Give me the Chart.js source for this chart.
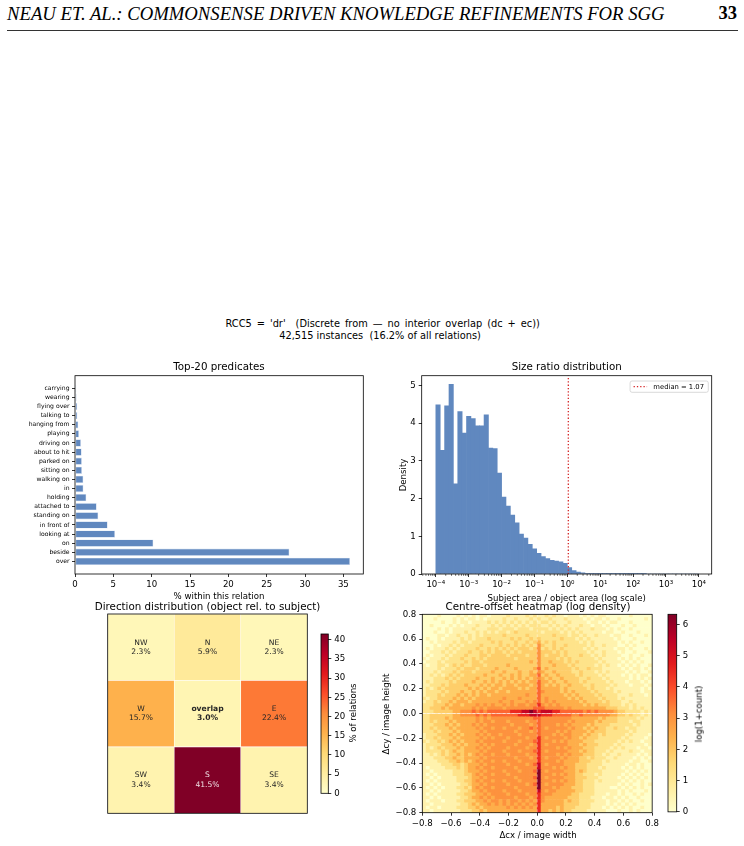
<!DOCTYPE html>
<html><head><meta charset="utf-8">
<script src="https://cdn.jsdelivr.net/npm/chart.js@4.4.1/dist/chart.umd.min.js"></script>
<style>
html,body{margin:0;padding:0;background:#fff;}
body{width:744px;height:846px;position:relative;overflow:hidden;font-family:'DejaVu Sans',sans-serif;color:#000;}
canvas{position:absolute;}
.t{position:absolute;white-space:pre;transform:translate(-50%,-50%);line-height:1;}
.r{transform:translate(-50%,-50%) rotate(-90deg);}
.ttl{font-size:10.3px;}
.lab{font-size:8.6px;}
</style></head><body>
<div style="position:absolute;left:7px;top:3px;font-family:'Liberation Serif',serif;font-style:italic;font-size:18.7px;white-space:nowrap;">NEAU ET. AL.: COMMONSENSE DRIVEN KNOWLEDGE REFINEMENTS FOR SGG</div>
<div style="position:absolute;right:7px;top:3px;font-family:'Liberation Serif',serif;font-weight:bold;font-size:18.5px;">33</div>
<div style="position:absolute;left:7px;width:731px;top:30px;height:1px;background:#333;"></div>

<div class="t" style="left:382.7px;top:324px;font-size:9.8px;word-spacing:1.9px;">RCC5 = 'dr'  (Discrete from — no interior overlap (dc + ec))</div>
<div class="t" style="left:380px;top:335.5px;font-size:9.8px;">42,515 instances  (16.2% of all relations)</div>

<canvas id="c1" width="372" height="260" style="left:0px;top:350px;"></canvas>
<canvas id="c2" width="372" height="260" style="left:372px;top:350px;"></canvas>
<canvas id="c3" width="215" height="220" style="left:100px;top:600px;"></canvas>
<canvas id="c3b" width="60" height="220" style="left:315px;top:600px;"></canvas>
<canvas id="c4" width="290" height="246" style="left:372px;top:600px;"></canvas>
<canvas id="c4b" width="82" height="220" style="left:662px;top:600px;"></canvas>

<div class="t ttl" style="left:219px;top:366px;">Top-20 predicates</div>
<div class="t ttl" style="left:566.7px;top:366px;">Size ratio distribution</div>
<div class="t lab" style="left:219px;top:596px;">% within this relation</div>
<div class="t lab" style="left:566.7px;top:598px;">Subject area / object area (log scale)</div>
<div class="t lab r" style="left:402.7px;top:475px;">Density</div>
<div class="t ttl" style="left:207.5px;top:605.5px;">Direction distribution (object rel. to subject)</div>
<div class="t ttl" style="left:538px;top:606px;">Centre-offset heatmap (log density)</div>
<div class="t lab r" style="left:353px;top:713px;">% of relations</div>
<div class="t lab" style="left:538px;top:834.5px;">Δcx / image width</div>
<div class="t lab r" style="left:386px;top:714px;">Δcy / image height</div>
<div class="t lab r" style="left:698.8px;top:714px;">log(1+count)</div>

<script>
// ---------------- DATA ----------------
const predicates = ['over','beside','on','looking at','in front of','standing on','attached to','holding','in','walking on','sitting on','parked on','about to hit','driving on','playing','hanging from','talking to','flying over','wearing','carrying'];
const predicatePct = [35.87,27.96,10.22,5.22,4.26,3.04,2.83,1.48,1.10,1.09,0.91,0.90,0.87,0.78,0.52,0.43,0.31,0.30,0.22,0.17];
const predicateTicks = [0,5,10,15,20,25,30,35];

const sizeRatioLogMin = -4;
const sizeRatioLogMax = 4;
const sizeRatioDensity = [4.49,3.28,4.46,5.03,2.39,4.31,3.74,4.18,4.12,3.93,
  3.93,4.22,3.34,3.33,2.68,2.04,1.80,1.56,1.36,1.06,
  0.95,0.79,0.67,0.55,0.46,0.41,0.36,0.34,0.32,0.28,
  0.17,0.09,0.05,0.03,0.02,0.015,0.01,0.008,0.005,0.004,
  0.003,0.003,0.002,0.002,0.001,0.001,0.001,0.001,0.0,0.0,
  0.0,0.0,0.0,0.0,0.0,0.0,0.0,0.0,0.0,0.0];
const sizeRatioDecades = [-4,-3,-2,-1,0,1,2,3,4];
const sizeRatioYTicks = [0,1,2,3,4,5];
const sizeRatioMedian = 1.07;

const directionNames = [['NW','N','NE'],['W','overlap','E'],['SW','S','SE']];
const directionPct = [[2.3,5.9,2.3],[15.7,3.0,22.4],[3.4,41.5,3.4]];
const directionCbarTicks = [0,5,10,15,20,25,30,35,40];

const offsetMin = -0.8, offsetMax = 0.8;
const offsetTicks = [-0.8,-0.6,-0.4,-0.2,0,0.2,0.4,0.6,0.8];
// log(1+count) value represented by each level digit 0..9 in offsetRows
const offsetLevelValues = [0, 0.55, 1.2, 1.8, 2.45, 3.05, 3.65, 4.5, 5.35, 6.3];
const offsetVmax = 6.32;
const offsetCbarTicks = [0,1,2,3,4,5,6];
// rows from top (dcy = +0.8) to bottom (dcy = -0.8), 60 columns each (dcx -0.8 .. 0.8)
const offsetRows = [
"0000100001 0101011011 1121111212 1121211011 1010101100 0000100000",
"0001000010 1011010111 1211211121 2112111211 1101011010 0100000010",
"0000010010 1101111212 1212121212 1221211121 1110110101 1000100000",
"0010000101 0111211121 2121212122 2112121211 1211011010 0010010000",
"0000101011 1112111222 1222122212 2221212121 2111211101 0100100000",
"0001001011 1211212121 2212322222 2122221212 1211111011 0010001000",
"0000110112 1121212222 2322222322 2222322212 2121121110 1100100010",
"0100101111 2121222322 2223232232 3222223222 1212111111 0100010000",
"0010111121 2212222232 3222322323 4232322222 2121211111 1010100100",
"0001011212 1222232222 3232323232 5322322322 2221211211 1001010000",
"0101112121 2222322323 2323233323 5232323222 2212121111 0110100010",
"0011121212 2232232323 3232323333 5333232322 2221211211 1010010001",
"0101112122 2322233233 3323333233 5323332322 2322121211 1100100100",
"1011121222 3223232333 3333233333 5333323232 2222212111 1010101000",
"0111212222 2323323333 3333333343 5334333232 3222221211 1101010100",
"1011221232 3223332333 3343333333 5333433323 2222212121 1010101001",
"1111212223 2333233334 3333433334 6343333332 3223222111 1101011010",
"1112122232 3332333343 3433343343 5433433332 2322212121 1110101001",
"1121212323 2333334333 4334343344 6343343333 2322221211 1101010110",
"1112223232 3333433343 3434343434 5434334333 3223222121 1111010101",
"1212222323 3334334343 4343434344 6443433433 3232222212 1110111010",
"1122232333 3433343434 4344344434 6434343343 3322322221 2111011101",
"1212323333 3343434344 3444434344 6444443433 3332322212 1111111010",
"1222232333 4334343443 4434444444 6544443434 3333232222 1211111011",
"1222323334 3434344344 4444444544 6444444343 4333323222 2111211101",
"2122333343 4343444444 4544454444 6454444434 3433332322 2121111111",
"1223233434 4434444444 5445444545 6454544444 4343333232 2211211111",
"2223334344 3444545454 4545455455 7545454444 4434343332 2212121111",
"2233343444 4445454555 5455555556 6655555454 4444444433 3222121211",
"2223333344 5556565666 6667778898 7888776666 6656565555 4332222121",
"2233333344 5555656566 6666677788 8777666665 5655555554 4332322121",
"2233334344 4444545455 5555555556 6555555554 4444443433 3222221211",
"2232333434 4444545545 5545555455 6555555545 4444434333 3222122111",
"2223334343 4445454555 5554555545 6555545454 4443433332 2222212111",
"2232333434 4444545545 5455545565 6545555545 4434343322 3221221111",
"2223233343 4444454555 5555455545 6555545454 4443433322 2222121111",
"1222333434 3444545455 4555545555 6555454554 4434332322 2221211110",
"1223233343 4444454545 5545555455 7545555454 4343332222 2212111101",
"2122323434 3444545555 5455545556 7555454544 4433322222 2121211011",
"1222233343 4344454545 5555455545 7545555544 4343332222 1211111101",
"1212323334 3444545455 5545555455 7555545454 4433322221 2121110110",
"1222232343 3444454555 5455545556 7545555544 4343322212 1111211011",
"1121232334 3434545545 5545555455 7555545454 4433322121 1211110101",
"1112223343 3444454555 5555455545 7545554544 4332322211 2111101010",
"1111222334 3434545545 5455545555 7555545444 4333222121 1111011001",
"1111122233 2344454555 5545555456 8545555444 3332222111 1110110100",
"1011112223 2344545545 5555455555 8555454544 3332221211 1101010100",
"1101111122 2344454555 5455545556 9545555444 3432222111 1110101010",
"1010111122 2334545545 5545555555 9555454544 3322212111 1101010100",
"1101011112 2234454555 5555455556 9545555444 3332221111 1010101010",
"1010111112 2334545545 5455545555 9555454544 3322212111 1101010100",
"1101011111 2234454555 5545555456 9545555444 3322211111 1010100101",
"1010101112 2324545545 5555455555 9555454443 3322211110 0101010100",
"1101011111 2234454555 5455545555 8545544444 3322211111 1010100010",
"1010111112 2333445455 5545555455 7555444443 3222211101 1010010100",
"1101011111 2234454545 5555455545 7544444433 3222111011 0101001000",
"1011101112 2333445455 4545545454 7544444343 3222211101 1010100100",
"1101111111 2234344545 4545454545 7444444333 3222111101 0101010000",
"1011011112 2233434444 4454545454 7444434333 2222111010 1010100100",
"1101111111 2223343444 4444444444 7443434332 2221111100 0100101000"
];

// ---------------- HELPERS ----------------
const YLORRD = ['#ffffcc','#ffeda0','#fed976','#feb24c','#fd8d3c','#fc4e2a','#e31a1c','#bd0026','#800026'];
const YLORRD_RGB = YLORRD.map(h => [1,3,5].map(i => parseInt(h.substr(i,2),16)));
function ylorrd(t){
  t = Math.max(0, Math.min(1, t));
  const s = t*8, i = Math.min(7, Math.floor(s)), f = s - i;
  const a = YLORRD_RGB[i], b = YLORRD_RGB[i+1];
  return 'rgb(' + a.map((v,k)=>Math.round(v + (b[k]-v)*f)).join(',') + ')';
}
function fmtMinus(s){ return String(s).replace('-', '\u2212'); }
const SUP = {'-':'\u207B','0':'\u2070','1':'\u00B9','2':'\u00B2','3':'\u00B3','4':'\u2074','5':'\u2075','6':'\u2076','7':'\u2077','8':'\u2078','9':'\u2079'};
function pow10Label(v){ return '10' + String(v).split('').map(ch=>SUP[ch]||ch).join(''); }

Chart.defaults.font.family = "'DejaVu Sans', sans-serif";
Chart.defaults.color = '#000';
Chart.defaults.animation = false;
Chart.defaults.responsive = false;
Chart.defaults.devicePixelRatio = 1;
Chart.defaults.events = [];
Chart.defaults.plugins.legend.display = false;
Chart.defaults.plugins.tooltip.enabled = false;

function gridOpts(){ return {display:true, drawOnChartArea:false, drawTicks:true, tickLength:3, tickWidth:0.8, tickColor:'#000', offset:false}; }
function tickOpts(extra){ return Object.assign({color:'#000', padding:3, autoSkip:false, maxRotation:0, font:{size:8.6}}, extra||{}); }
function setTicks(list){ return s => { s.ticks = list.map(v => ({value:v})); }; }

const framePlugin = {
  id:'frame',
  afterDraw(chart){
    const a = chart.chartArea, ctx = chart.ctx;
    ctx.save(); ctx.strokeStyle = '#000'; ctx.lineWidth = 0.8;
    ctx.strokeRect(a.left, a.top, a.right - a.left, a.bottom - a.top);
    ctx.restore();
  }
};

const BLUE = '#6088bf';

// ---------------- CHART 1: Top-20 predicates ----------------
new Chart(document.getElementById('c1'), {
  type:'bar',
  data:{ datasets:[{
    data: predicatePct.map((v,i)=>({x:v, y:i})),
    backgroundColor: BLUE, borderColor:'rgba(205,218,238,0.9)', borderWidth:0.6, borderSkipped:false,
    categoryPercentage:0.8, barPercentage:1
  }]},
  options:{
    indexAxis:'y',
    layout:{padding:{left:0, top:25.7, right:8.7, bottom:0}},
    scales:{
      x:{type:'linear', position:'bottom', min:0, max:37.6, grid:gridOpts(), border:{display:false},
         afterBuildTicks:setTicks(predicateTicks), ticks:tickOpts(), afterFit:s=>{s.height=36;}},
      y:{type:'linear', min:-1.39, max:20.39, offset:false, grid:gridOpts(), border:{display:false},
         afterBuildTicks:setTicks(predicates.map((p,i)=>i)),
         ticks:tickOpts({font:{size:6.1}, padding:2.5, callback:v=>predicates[v]}), afterFit:s=>{s.width=75;}}
    }
  },
  plugins:[framePlugin]
});

// ---------------- CHART 2: Size ratio distribution ----------------
const binW = (sizeRatioLogMax - sizeRatioLogMin) / sizeRatioDensity.length;
const sizePlugin = {
  id:'sizeExtras',
  afterDatasetsDraw(chart){
    const xs = chart.scales.x, a = chart.chartArea, ctx = chart.ctx;
    const mx = xs.getPixelForValue(Math.log10(sizeRatioMedian));
    ctx.save();
    ctx.strokeStyle = '#d62728'; ctx.lineWidth = 1.3; ctx.setLineDash([1.3,2]);
    ctx.beginPath(); ctx.moveTo(mx, a.bottom); ctx.lineTo(mx, a.top); ctx.stroke();
    ctx.restore();
  },
  afterDraw(chart){
    const xs = chart.scales.x, a = chart.chartArea, ctx = chart.ctx;
    ctx.save(); ctx.strokeStyle = '#000'; ctx.lineWidth = 0.6;
    for (let d = Math.floor(xs.min); d <= Math.ceil(xs.max); d++) {
      for (let k = 2; k <= 9; k++) {
        const v = d + Math.log10(k);
        if (v < xs.min || v > xs.max) continue;
        const px = xs.getPixelForValue(v);
        ctx.beginPath(); ctx.moveTo(px, a.bottom); ctx.lineTo(px, a.bottom + 1.8); ctx.stroke();
      }
    }
    ctx.restore();
    const label = 'median = ' + sizeRatioMedian.toFixed(2);
    ctx.save();
    ctx.font = "6.8px 'DejaVu Sans', sans-serif";
    const tw = ctx.measureText(label).width;
    const bw = 23.3 + tw + 4.3, bh = 11.3;
    const bx = a.right - 3.4 - bw, by = a.top + 5.3;
    ctx.fillStyle = 'rgba(255,255,255,0.8)'; ctx.strokeStyle = '#d0d0d0'; ctx.lineWidth = 0.8;
    ctx.beginPath(); ctx.roundRect(bx, by, bw, bh, 2); ctx.fill(); ctx.stroke();
    ctx.strokeStyle = '#d62728'; ctx.lineWidth = 1.3; ctx.setLineDash([1.3,2]);
    ctx.beginPath(); ctx.moveTo(bx + 3.5, by + bh/2); ctx.lineTo(bx + 17, by + bh/2); ctx.stroke();
    ctx.setLineDash([]);
    ctx.fillStyle = '#000'; ctx.textBaseline = 'middle';
    ctx.fillText(label, bx + 23.3, by + bh/2 + 0.3);
    ctx.restore();
  }
};
new Chart(document.getElementById('c2'), {
  type:'bar',
  data:{ datasets:[{
    data: sizeRatioDensity.map((d,i)=>({x: sizeRatioLogMin + (i+0.5)*binW, y: d})),
    backgroundColor: BLUE, borderWidth:0, categoryPercentage:1, barPercentage:1
  }]},
  options:{
    layout:{padding:{left:0, top:25.7, right:32.3, bottom:0}},
    scales:{
      x:{type:'linear', min:-4.43, max:4.39, offset:false, grid:gridOpts(), border:{display:false},
         afterBuildTicks:setTicks(sizeRatioDecades), ticks:tickOpts({callback:v=>pow10Label(v)}), afterFit:s=>{s.height=36;}},
      y:{type:'linear', min:0, max:5.26, grid:gridOpts(), border:{display:false},
         afterBuildTicks:setTicks(sizeRatioYTicks), ticks:tickOpts(), afterFit:s=>{s.width=49.7;}}
    }
  },
  plugins:[sizePlugin, framePlugin]
});

// ---------------- CHART 3: Direction distribution ----------------
const dirVmax = Math.max(...directionPct.flat());
const dirTextPlugin = {
  id:'dirText',
  afterDatasetsDraw(chart){
    const ctx = chart.ctx;
    chart.data.datasets.forEach((ds, di) => {
      const r = ds.rowIndex;
      chart.getDatasetMeta(di).data.forEach((el, ci) => {
        const p = el.getCenterPoint();
        const name = directionNames[r][ci], pct = directionPct[r][ci];
        const bold = name === 'overlap';
        ctx.save();
        ctx.fillStyle = pct / dirVmax > 0.7 ? 'rgba(255,255,255,0.88)' : '#262626';
        ctx.font = (bold ? 'bold ' : '') + "7.6px 'DejaVu Sans', sans-serif";
        ctx.textAlign = 'center'; ctx.textBaseline = 'middle';
        ctx.fillText(name, p.x, p.y - 4.6);
        ctx.fillText(pct.toFixed(1) + '%', p.x, p.y + 4.6);
        ctx.restore();
      });
    });
  }
};
new Chart(document.getElementById('c3'), {
  type:'bar',
  data:{ labels:['W','C','E'], datasets:[2,1,0].map(r => ({
    rowIndex:r, data:[1,1,1],
    backgroundColor: directionPct[r].map(v => ylorrd(v / dirVmax)),
    borderColor:'rgba(255,255,255,0.45)', borderWidth:0.6, borderSkipped:false,
    categoryPercentage:1, barPercentage:1
  }))},
  options:{
    layout:{padding:{left:7.7, top:14, right:7.7, bottom:6.7}},
    scales:{ x:{display:false, stacked:true}, y:{display:false, stacked:true, min:0, max:3} }
  },
  plugins:[dirTextPlugin, framePlugin]
});

function gradientFill(ctx){
  const chart = ctx.chart, a = chart.chartArea;
  if (!a) return YLORRD[4];
  const g = chart.ctx.createLinearGradient(0, a.bottom, 0, a.top);
  YLORRD.forEach((c,i) => g.addColorStop(i/(YLORRD.length-1), c));
  return g;
}
new Chart(document.getElementById('c3b'), {
  type:'bar',
  data:{ labels:[''], datasets:[{ data:[dirVmax], backgroundColor:gradientFill, borderWidth:0, categoryPercentage:1, barPercentage:1 }]},
  options:{
    layout:{padding:{left:6, top:34, right:0, bottom:26.7}},
    scales:{
      x:{display:false},
      y:{position:'right', min:0, max:dirVmax, grid:gridOpts(), border:{display:false},
         afterBuildTicks:setTicks(directionCbarTicks), ticks:tickOpts(), afterFit:s=>{s.width=46.7;}}
    }
  },
  plugins:[framePlugin]
});

// ---------------- CHART 4: Centre-offset heatmap ----------------
const rows = offsetRows.map(s => s.replace(/\s+/g,''));
const nRows = rows.length, nCols = 60;
const cw = (offsetMax - offsetMin) / nCols, rh = (offsetMax - offsetMin) / nRows;
const cells = [], cellColors = [];
rows.forEach((row, r) => {
  for (let c = 0; c < nCols; c++) {
    const lvl = parseInt(row[Math.min(c, row.length-1)], 10) || 0;
    const top = offsetMax - r*rh;
    cells.push({x: offsetMin + (c+0.5)*cw, y: [top - rh, top]});
    cellColors.push(ylorrd(offsetLevelValues[lvl] / offsetVmax));
  }
});
const crossPlugin = {
  id:'cross',
  afterDatasetsDraw(chart){
    const xs = chart.scales.x, ys = chart.scales.y, a = chart.chartArea, ctx = chart.ctx;
    const x0 = xs.getPixelForValue(0), y0 = ys.getPixelForValue(0);
    ctx.save(); ctx.strokeStyle = 'rgba(255,255,255,0.6)'; ctx.lineWidth = 0.7; ctx.setLineDash([3,2]);
    ctx.beginPath(); ctx.moveTo(x0, a.top); ctx.lineTo(x0, a.bottom); ctx.stroke();
    ctx.beginPath(); ctx.moveTo(a.left, y0); ctx.lineTo(a.right, y0); ctx.stroke();
    ctx.restore();
  }
};
const offFmt = v => fmtMinus((Math.round(v*10)/10).toFixed(1));
new Chart(document.getElementById('c4'), {
  type:'bar',
  data:{ datasets:[{ data:cells, backgroundColor:cellColors, borderWidth:0, categoryPercentage:1, barPercentage:1 }]},
  options:{
    layout:{padding:{left:0, top:14.3, right:8, bottom:0}},
    scales:{
      x:{type:'linear', min:offsetMin, max:offsetMax, offset:false, grid:gridOpts(), border:{display:false},
         afterBuildTicks:setTicks(offsetTicks), ticks:tickOpts({callback:offFmt}), afterFit:s=>{s.height=33.3;}},
      y:{type:'linear', min:offsetMin, max:offsetMax, grid:gridOpts(), border:{display:false},
         afterBuildTicks:setTicks(offsetTicks), ticks:tickOpts({callback:offFmt}), afterFit:s=>{s.width=50.3;}}
    }
  },
  plugins:[crossPlugin, framePlugin]
});
new Chart(document.getElementById('c4b'), {
  type:'bar',
  data:{ labels:[''], datasets:[{ data:[offsetVmax], backgroundColor:gradientFill, borderWidth:0, categoryPercentage:1, barPercentage:1 }]},
  options:{
    layout:{padding:{left:6, top:14.3, right:0, bottom:7.3}},
    scales:{
      x:{display:false},
      y:{position:'right', min:0, max:offsetVmax, grid:gridOpts(), border:{display:false},
         afterBuildTicks:setTicks(offsetCbarTicks), ticks:tickOpts(), afterFit:s=>{s.width=67.3;}}
    }
  },
  plugins:[framePlugin]
});
</script>
</body></html>
